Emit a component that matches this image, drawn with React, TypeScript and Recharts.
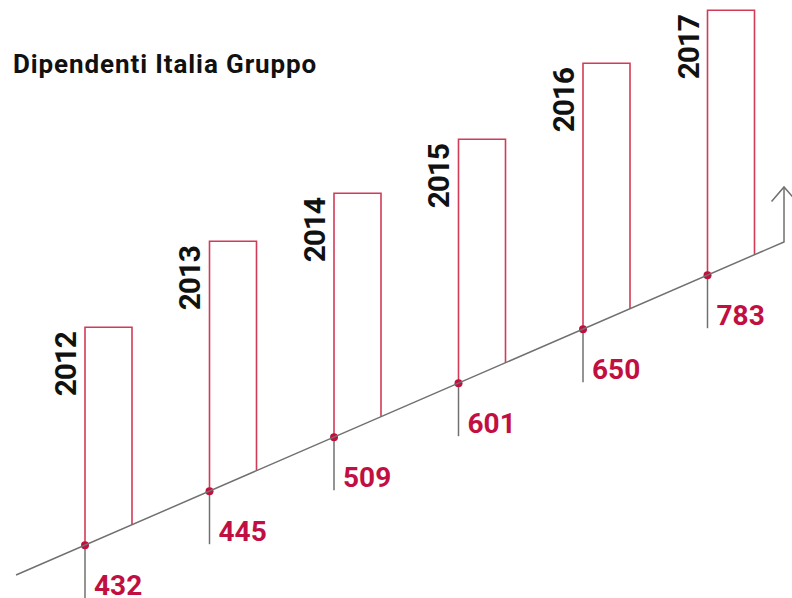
// Dipendenti Italia Gruppo — colonne aperte che salgono da una base inclinata
import { ComposedChart, Bar, Line, XAxis, YAxis } from "recharts";

const anni = ["2012", "2013", "2014", "2015", "2016", "2017"];
const dipendenti = [432, 445, 509, 601, 650, 783];
// altezza visiva delle colonne sopra la base
const altezzaBarre = [218, 250, 244, 244, 266, 265];

const W = 800;
const H = 598;
const PAD = { left: 46, right: 7 };
const BAR_W = 47;

// base inclinata: quota della base alla colonna i (unità asse Y)
const BASE0 = 52.8;
const SALITA = 54; // per categoria
const PX_PER_CAT = 124.5;
const PENDENZA = SALITA / PX_PER_CAT;
const T_INIZIO = -0.552;
const T_FINE = 5.6165;
const FRECCIA = 55;

const ROSSO = "#d23b58";
const ROSSO_TESTO = "#c20f42";
const GRIGIO = "#707070";
const FONT = "Roboto, 'DejaVu Sans', sans-serif";

const quota = (t: number) => BASE0 + SALITA * t;

const data = anni.map((anno, i) => ({
  anno,
  valore: dipendenti[i],
  range: [quota(i), quota(i) + altezzaBarre[i]],
}));

const baseLinea = [
  { t: T_INIZIO, v: quota(T_INIZIO) },
  { t: T_FINE, v: quota(T_FINE) },
  { t: T_FINE, v: quota(T_FINE) + FRECCIA },
];
const puntaFreccia = [
  { t: T_FINE - 0.1, v: quota(T_FINE) + FRECCIA - 14.5 },
  { t: T_FINE, v: quota(T_FINE) + FRECCIA },
  { t: T_FINE + 0.1, v: quota(T_FINE) + FRECCIA - 14.5 },
];

const Colonna = (props: any) => {
  const { x, y, width, height, payload } = props;
  const fondo = y + height;
  const destra = fondo - width * PENDENZA;
  return (
    <g>
      <path
        d={`M${x},${fondo} L${x},${y} L${x + width},${y} L${x + width},${destra}`}
        fill="none"
        stroke={ROSSO}
        strokeWidth={1.6}
      />
      <line x1={x} y1={fondo} x2={x} y2={fondo + 53} stroke={GRIGIO} strokeWidth={1.5} />
      <circle cx={x} cy={fondo} r={4} fill="#c0103e" />
      <text
        x={x + 9}
        y={fondo + 50}
        fill={ROSSO_TESTO}
        fontFamily={FONT}
        fontWeight={700}
        fontSize={28}
      >
        {payload.valore}
      </text>
      <text
        x={x - 9}
        y={y + 5}
        transform={`rotate(-90 ${x - 9} ${y + 5})`}
        textAnchor="end"
        fill="#111"
        fontFamily={FONT}
        fontWeight={700}
        fontSize={30}
        letterSpacing={-1.2}
      >
        {payload.anno}
      </text>
    </g>
  );
};

export default function App() {
  // asse numerico allineato al bordo sinistro delle colonne
  const primo = PAD.left + (PX_PER_CAT - BAR_W) / 2;
  const d0 = -primo / PX_PER_CAT;
  const d1 = d0 + W / PX_PER_CAT;
  return (
    <div
      style={{
        position: "absolute",
        left: 0,
        top: 0,
        width: 792,
        height: 598,
        overflow: "hidden",
        background: "#fff",
      }}
    >
      <div
        style={{
          position: "absolute",
          left: 13,
          top: 51,
          fontFamily: FONT,
          fontWeight: 700,
          fontSize: 26,
          lineHeight: "26px",
          letterSpacing: 0.9,
          color: "#111",
        }}
      >
        Dipendenti Italia Gruppo
      </div>
      <ComposedChart width={W} height={H} data={data} margin={{ top: 0, right: 0, bottom: 0, left: 0 }}>
        <XAxis xAxisId="cat" dataKey="anno" padding={PAD} hide />
        <XAxis
          xAxisId="num"
          dataKey="t"
          type="number"
          domain={[d0, d1]}
          allowDataOverflow
          hide
        />
        <YAxis type="number" domain={[0, H]} allowDataOverflow hide />
        <Line
          xAxisId="num"
          data={baseLinea}
          dataKey="v"
          type="linear"
          stroke={GRIGIO}
          strokeWidth={1.5}
          dot={false}
          activeDot={false}
          isAnimationActive={false}
        />
        <Line
          xAxisId="num"
          data={puntaFreccia}
          dataKey="v"
          type="linear"
          stroke={GRIGIO}
          strokeWidth={1.5}
          dot={false}
          activeDot={false}
          isAnimationActive={false}
        />
        <Bar
          xAxisId="cat"
          dataKey="range"
          barSize={BAR_W}
          shape={<Colonna />}
          isAnimationActive={false}
        />
      </ComposedChart>
    </div>
  );
}
